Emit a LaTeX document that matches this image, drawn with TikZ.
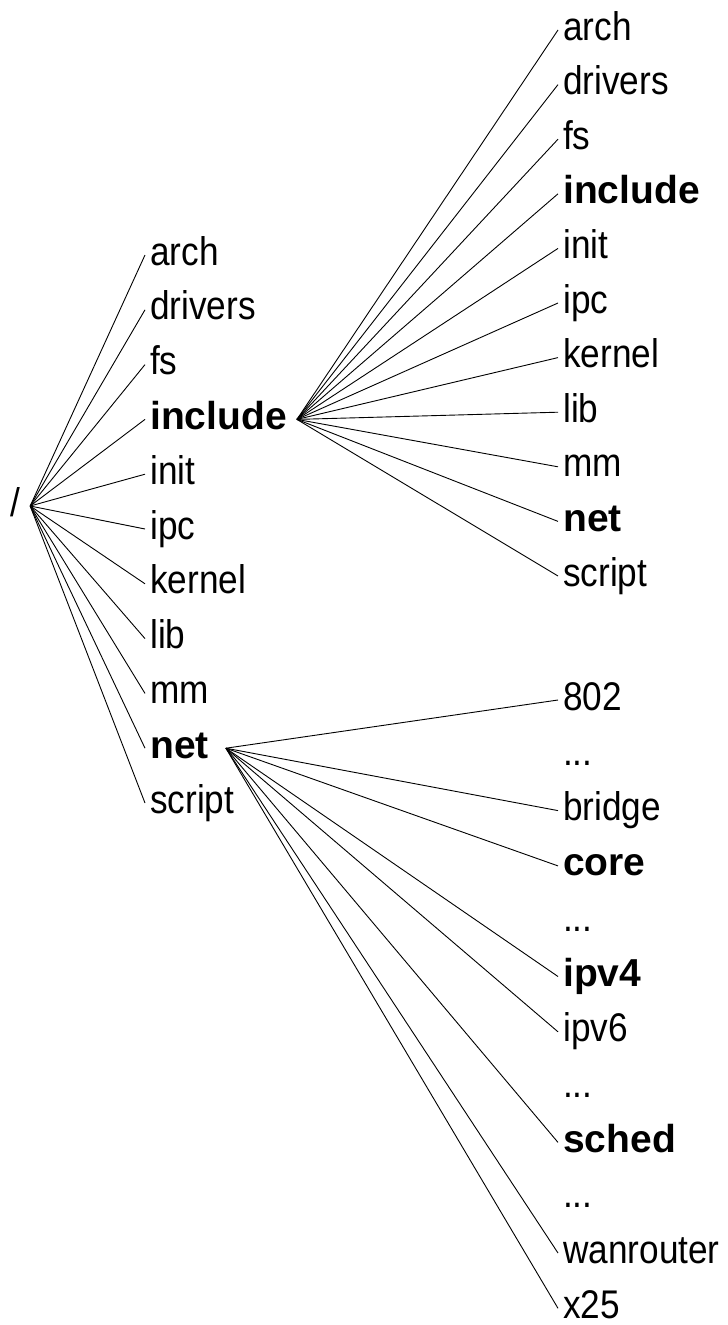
\documentclass[tikz,border=0pt]{standalone}
\usepackage{fontspec}
\setmainfont{Liberation Sans}
\newfontfamily\regfont{Liberation Sans}[FakeStretch=0.88]
\newcommand\morefiles{.{}.{}.}
\tikzset{
  entry/.style={inner xsep=5pt, inner ysep=0pt, text height=26pt, text depth=6pt,
                anchor=base west, font=\fontsize{40}{42}\regfont},
  dir/.style={entry, font=\fontsize{39}{42}\selectfont\bfseries},
  link/.style={line width=0.9pt, black}
}
\begin{document}
\begin{tikzpicture}[x=1pt, y=-1pt]
\useasboundingbox (0,0) rectangle (728,1325);

% root directory
\node[entry] (root) at (5,516) {/};

% first level: top-level source tree
\foreach \n/\s [count=\k from 0] in {arch/entry, drivers/entry, fs/entry, include/dir,
    init/entry, ipc/entry, kernel/entry, lib/entry, mm/entry, net/dir, script/entry}
  \node[\s] (L-\n) at (145,{265+54.8*\k}) {\n};

% contents of include
\foreach \n/\s [count=\k from 0] in {arch/entry, drivers/entry, fs/entry, include/dir,
    init/entry, ipc/entry, kernel/entry, lib/entry, mm/entry, net/dir, script/entry}
  \node[\s] (R-\n) at (558,{40+54.6*\k}) {\n};

% contents of net
\foreach \n/\t/\s [count=\k from 0] in {802/802/entry, d1/\morefiles/entry, bridge/bridge/entry,
    core/core/dir, d2/\morefiles/entry, ipv4/ipv4/dir, ipv6/ipv6/entry, d3/\morefiles/entry,
    sched/sched/dir, d4/\morefiles/entry, wanrouter/wanrouter/entry, x25/x25/entry}
  \node[\s] (N-\n) at (558,{710+55.3*\k}) {\t};

% connectors
\foreach \n in {arch, drivers, fs, include, init, ipc, kernel, lib, mm, net, script}
  \draw[link] ([xshift=5pt]root.east) -- (L-\n.west);
\foreach \n in {arch, drivers, fs, include, init, ipc, kernel, lib, mm, net, script}
  \draw[link] ([xshift=5pt]L-include.east) -- (R-\n.west);
\foreach \n in {802, bridge, core, ipv4, ipv6, sched, wanrouter, x25}
  \draw[link] ([xshift=12pt]L-net.east) -- (N-\n.west);
\end{tikzpicture}
\end{document}
